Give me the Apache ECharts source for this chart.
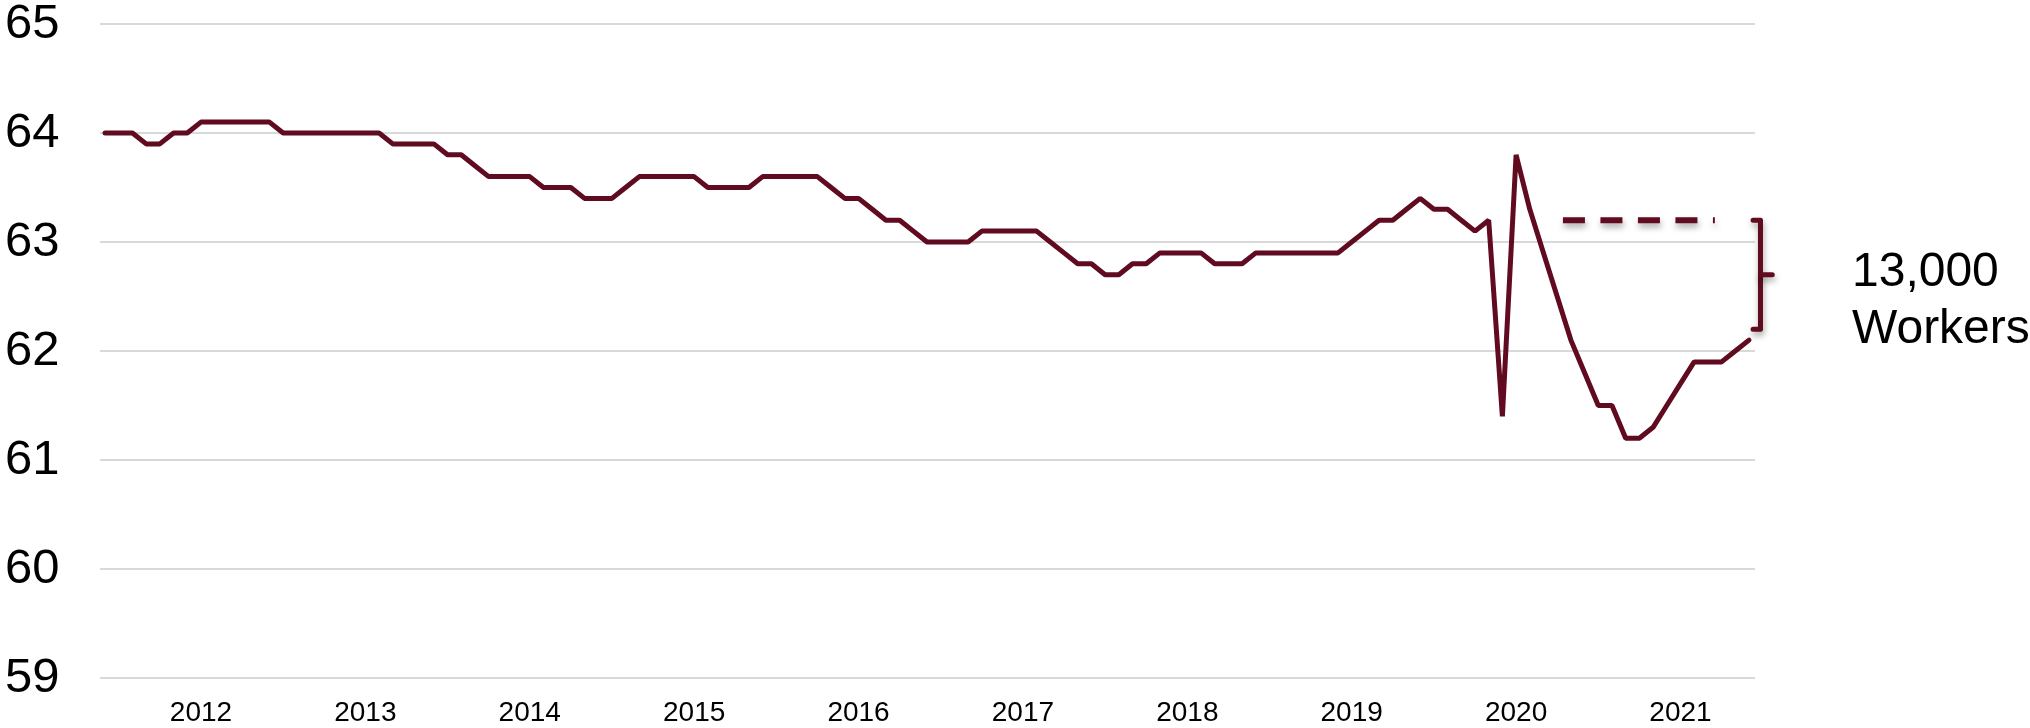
<!DOCTYPE html>
<html>
<head>
<meta charset="utf-8">
<style>
  html, body { margin: 0; padding: 0; background: #fff; }
  #mychart1 { width: 2030px; height: 728px; }
</style>
<script src="https://cdn.jsdelivr.net/npm/echarts@6/dist/echarts.min.js"></script>
</head>
<body>
<div id="mychart1"></div>
<script>
// 月份（类目）
const months = [
  '2011-06','2011-07','2011-08','2011-09','2011-10','2011-11','2011-12',
  '2012-01','2012-02','2012-03','2012-04','2012-05','2012-06','2012-07','2012-08','2012-09','2012-10','2012-11','2012-12',
  '2013-01','2013-02','2013-03','2013-04','2013-05','2013-06','2013-07','2013-08','2013-09','2013-10','2013-11','2013-12',
  '2014-01','2014-02','2014-03','2014-04','2014-05','2014-06','2014-07','2014-08','2014-09','2014-10','2014-11','2014-12',
  '2015-01','2015-02','2015-03','2015-04','2015-05','2015-06','2015-07','2015-08','2015-09','2015-10','2015-11','2015-12',
  '2016-01','2016-02','2016-03','2016-04','2016-05','2016-06','2016-07','2016-08','2016-09','2016-10','2016-11','2016-12',
  '2017-01','2017-02','2017-03','2017-04','2017-05','2017-06','2017-07','2017-08','2017-09','2017-10','2017-11','2017-12',
  '2018-01','2018-02','2018-03','2018-04','2018-05','2018-06','2018-07','2018-08','2018-09','2018-10','2018-11','2018-12',
  '2019-01','2019-02','2019-03','2019-04','2019-05','2019-06','2019-07','2019-08','2019-09','2019-10','2019-11','2019-12',
  '2020-01','2020-02','2020-03','2020-04','2020-05','2020-06','2020-07','2020-08','2020-09','2020-10','2020-11','2020-12',
  '2021-01','2021-02','2021-03','2021-04','2021-05','2021-06'
];

// 参与率
const rate = [
  64.0, 64.0, 64.0, 63.9, 63.9, 64.0, 64.0,
  64.1, 64.1, 64.1, 64.1, 64.1, 64.1, 64.0, 64.0, 64.0, 64.0, 64.0, 64.0,
  64.0, 64.0, 63.9, 63.9, 63.9, 63.9, 63.8, 63.8, 63.7, 63.6, 63.6, 63.6,
  63.6, 63.5, 63.5, 63.5, 63.4, 63.4, 63.4, 63.5, 63.6, 63.6, 63.6, 63.6,
  63.6, 63.5, 63.5, 63.5, 63.5, 63.6, 63.6, 63.6, 63.6, 63.6, 63.5, 63.4,
  63.4, 63.3, 63.2, 63.2, 63.1, 63.0, 63.0, 63.0, 63.0, 63.1, 63.1, 63.1,
  63.1, 63.1, 63.0, 62.9, 62.8, 62.8, 62.7, 62.7, 62.8, 62.8, 62.9, 62.9,
  62.9, 62.9, 62.8, 62.8, 62.8, 62.9, 62.9, 62.9, 62.9, 62.9, 62.9, 62.9,
  63.0, 63.1, 63.2, 63.2, 63.3, 63.4, 63.3, 63.3, 63.2, 63.1, 63.2, 61.4,
  63.8, 63.3, 62.9, 62.5, 62.1, 61.8, 61.5, 61.5, 61.2, 61.2, 61.3, 61.5,
  61.7, 61.9, 61.9, 61.9, 62.0, 62.1
];

// 缺口标注：之前水平 / 当前水平
const gapLevels = [63.2, 62.2];
const gapText = ['13,000', 'Workers'];

const lineColor = '#600b1f';
const fontFamily = '"Liberation Sans", Arial, sans-serif';

let mychart1;

function createOption() {
  // 每年一月的位置放年份
  let yearTicks = [];
  for (let i = 0; i < months.length; i++) {
    if (months[i].slice(5) === '01') yearTicks.push(i);
  }
  let shadow = {
    shadowColor: 'rgba(0,0,0,0.35)',
    shadowBlur: 6,
    shadowOffsetX: 1,
    shadowOffsetY: 4
  };
  return {
    animation: false,
    backgroundColor: '#fff',
    grid: {
      left: 100, right: 275, top: 24, bottom: 50,
      containLabel: false,
      outerBoundsMode: 'none'
    },
    xAxis: {
      type: 'value',
      min: -0.37,
      max: 120.44,
      axisLine: { show: false },
      axisTick: { show: false },
      splitLine: { show: false },
      axisLabel: {
        customValues: yearTicks,
        formatter: (v) => months[v].slice(0, 4),
        fontSize: 28,
        fontFamily: fontFamily,
        color: '#000',
        margin: 21
      }
    },
    yAxis: {
      type: 'value',
      min: 59,
      max: 65,
      interval: 1,
      axisLine: { show: false },
      axisTick: { show: false },
      axisLabel: {
        fontSize: 49,
        fontFamily: fontFamily,
        color: '#000',
        align: 'left',
        margin: 95
      },
      splitLine: { lineStyle: { color: '#d9d9d9', width: 2 } }
    },
    graphic: [{
      type: 'text',
      left: 1852,
      top: 244,
      style: {
        text: gapText.join('\n'),
        font: '48px ' + fontFamily,
        lineHeight: 57,
        fill: '#000'
      }
    }],
    series: [
      {
        name: 'rate',
        type: 'line',
        data: rate.map((v, i) => [i, v]),
        symbol: 'none',
        lineStyle: { color: lineColor, width: 5, cap: 'round' }
      },
      // 虚线：之前水平
      {
        name: 'before',
        type: 'line',
        data: [[106.42, gapLevels[0]], [117.51, gapLevels[0]]],
        symbol: 'none',
        lineStyle: Object.assign({ color: lineColor, width: 6, type: [22, 15.5] }, shadow)
      },
      // 括号
      {
        name: 'bracket',
        type: 'custom',
        clip: false,
        data: [gapLevels],
        renderItem: function (params, api) {
          let top = api.coord([120.84, api.value(0)]);
          let bot = api.coord([120.84, api.value(1)]);
          let hookX = api.coord([120.3, api.value(0)])[0];
          let tickX = api.coord([121.7, api.value(0)])[0];
          let midY = (top[1] + bot[1]) / 2;
          let st = Object.assign({ stroke: lineColor, lineWidth: 5, fill: null, lineJoin: 'round', lineCap: 'round' }, shadow);
          return {
            type: 'group',
            children: [
              {
                type: 'polyline',
                shape: { points: [[hookX, top[1]], [top[0], top[1]], [bot[0], bot[1]], [hookX, bot[1]]] },
                style: st
              },
              {
                type: 'line',
                shape: { x1: top[0], y1: midY, x2: tickX, y2: midY },
                style: st
              }
            ]
          };
        }
      }
    ]
  };
}

function chartInit() {
  mychart1 = echarts.init(document.getElementById('mychart1'));
  mychart1.setOption(createOption());
  window.onresize = function () {
    mychart1.resize();
  };
}

chartInit();
</script>
</body>
</html>
